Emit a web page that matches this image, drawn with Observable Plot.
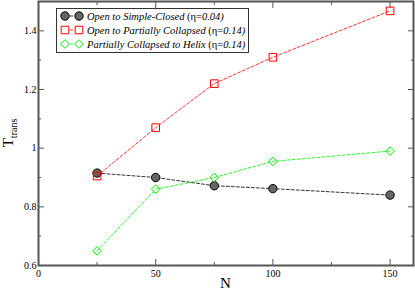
<!DOCTYPE html>
<html><head><meta charset="utf-8">
<script src="https://cdn.jsdelivr.net/npm/d3@7"></script>
<script src="https://cdn.jsdelivr.net/npm/@observablehq/plot@0.6"></script>
<style>
body{margin:0;background:#fff;}
#chart svg{display:block;}
</style></head>
<body><div id="chart"></div>
<script>
const N = [25, 50, 75, 100, 150];
const simpleClosed = [0.915, 0.900, 0.872, 0.862, 0.840];
const partiallyCollapsed = [0.905, 1.070, 1.220, 1.310, 1.468];
const helix = [0.650, 0.860, 0.900, 0.955, 0.990];
const seriesNames = ["Open to Simple-Closed", "Open to Partially Collapsed", "Partially Collapsed to Helix"];
const seriesEta = ["0.04", "0.14", "0.14"];
const xMajor = [0, 50, 100, 150];
const xMinor = [25, 75, 125];
const yMajor = [0.6, 0.8, 1.0, 1.2, 1.4];
const yMinor = [0.7, 0.9, 1.1, 1.3, 1.5];

const series = [
  {name: seriesNames[0], values: simpleClosed, color: "#000000", fill: "#666666", symbol: "circle", r: 4.2},
  {name: seriesNames[1], values: partiallyCollapsed, color: "#ff0000", fill: "none", symbol: "square", r: 4.3},
  {name: seriesNames[2], values: helix, color: "#00ee00", fill: "none", symbol: "diamond2", r: 3.9}
];
const data = series.flatMap((s, i) => N.map((n, j) => ({n, v: s.values[j], s: i})));

const axisColor = "#555";
const font = "'Liberation Serif', 'DejaVu Serif', serif";
const fmt = d => d === 1 ? "1" : String(d);
const common = {label: null, stroke: axisColor, fontFamily: font};

const marks = [];
marks.push(Plot.axisX(xMajor, {...common, anchor: "bottom", tickSize: -6, tickPadding: 10, tickFormat: fmt, fontSize: 10, fill: "#000"}));
marks.push(Plot.axisX(xMinor, {...common, anchor: "bottom", tickSize: -3, tickFormat: () => ""}));
marks.push(Plot.axisX(xMajor, {...common, anchor: "top", tickSize: -6, tickFormat: () => ""}));
marks.push(Plot.axisX(xMinor, {...common, anchor: "top", tickSize: -3, tickFormat: () => ""}));
marks.push(Plot.axisY(yMajor, {...common, anchor: "left", tickSize: -6, tickPadding: 8, tickFormat: fmt, fontSize: 10, fill: "#000"}));
marks.push(Plot.axisY(yMinor, {...common, anchor: "left", tickSize: -3, tickFormat: () => ""}));
marks.push(Plot.axisY(yMajor, {...common, anchor: "right", tickSize: -6, tickFormat: () => ""}));
marks.push(Plot.axisY(yMinor, {...common, anchor: "right", tickSize: -3, tickFormat: () => ""}));
series.forEach((s, i) => {
  const d = data.filter(e => e.s === i);
  marks.push(Plot.line(d, {x: "n", y: "v", stroke: s.color, strokeWidth: 1, strokeDasharray: "3,2", strokeOpacity: 0.8}));
  marks.push(Plot.dot(d, {x: "n", y: "v", r: s.r, symbol: s.symbol, stroke: s.color, fill: s.fill, strokeWidth: 1}));
});
marks.push(Plot.frame({stroke: axisColor, strokeWidth: 2}));

const chart = Plot.plot({
  width: 415, height: 291,
  marginLeft: 38, marginRight: 2, marginTop: 1, marginBottom: 26,
  style: {fontFamily: font, fontSize: "10px", background: "#fff", color: "#000"},
  x: {domain: [0, 160], axis: null, label: null},
  y: {domain: [0.6, 1.5], axis: null, label: null},
  marks
});
document.getElementById("chart").appendChild(chart);

const svg = d3.select(chart);
const xs = chart.scale("x"), ys = chart.scale("y");
const cx = (xs.range[0] + xs.range[1]) / 2;
svg.append("text").attr("x", cx).attr("y", 288).attr("text-anchor", "middle")
  .attr("font-family", font).attr("font-size", 15).text("N");
const cy = (ys.range[0] + ys.range[1]) / 2;
const yl = svg.append("text").attr("transform", `translate(12.5,${cy}) rotate(-90)`).attr("text-anchor", "middle")
  .attr("font-family", font).attr("font-size", 15);
yl.append("tspan").text("T");
yl.append("tspan").attr("font-size", 10).attr("dy", 4).text("trans");

const lg = svg.append("g").attr("font-family", font).attr("font-size", 10.5).attr("text-anchor", "start");
lg.append("rect").attr("x", 56.5).attr("y", 8.5).attr("width", 192).attr("height", 44)
  .attr("fill", "#fff").attr("stroke", "#333").attr("stroke-width", 1);
const symMap = {circle: d3.symbolCircle, square: d3.symbolSquare, diamond2: d3.symbolDiamond2};
series.forEach((s, i) => {
  const y = 16 + i * 14;
  lg.append("line").attr("x1", 65).attr("x2", 79).attr("y1", y).attr("y2", y)
    .attr("stroke", s.color).attr("stroke-dasharray", "3,2").attr("stroke-opacity", 0.8);
  [65, 79].forEach(x => {
    lg.append("path").attr("d", d3.symbol(symMap[s.symbol], Math.PI * s.r * s.r)())
      .attr("transform", `translate(${x},${y})`)
      .attr("fill", s.fill === "none" ? "#fff" : s.fill).attr("stroke", s.color);
  });
  const t = lg.append("text").attr("x", 87).attr("y", y).attr("dy", "0.35em");
  t.append("tspan").attr("font-style", "italic").text(s.name + " ");
  t.append("tspan").text("(\u03b7=");
  t.append("tspan").attr("font-style", "italic").text(seriesEta[i] + ")");
});
</script></body></html>
